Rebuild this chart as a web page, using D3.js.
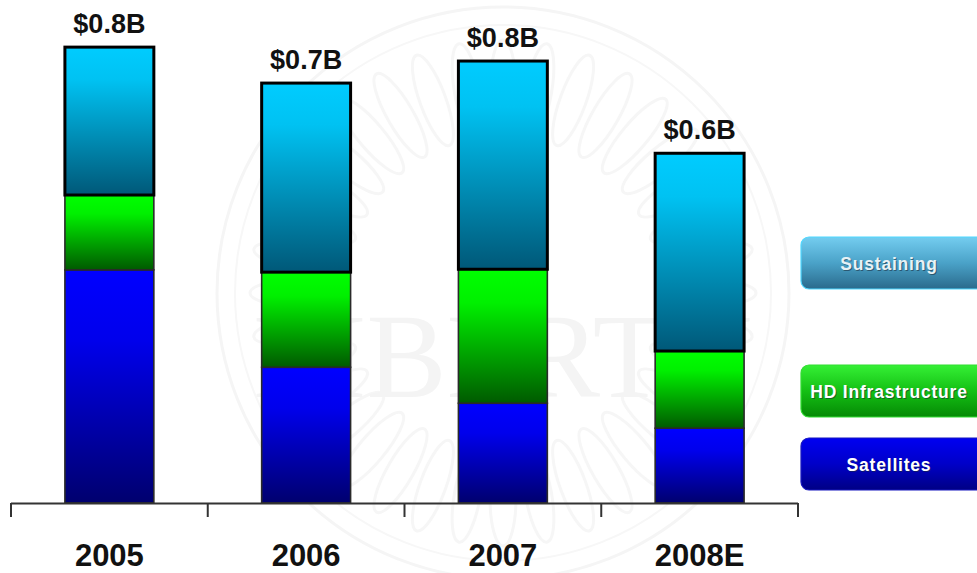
<!DOCTYPE html>
<html>
<head>
<meta charset="utf-8">
<script src="https://cdn.jsdelivr.net/npm/d3@7"></script>
<style>
  html, body { margin: 0; padding: 0; background: #ffffff; }
  svg { display: block; }
</style>
</head>
<body>
<svg id="chart" width="977" height="573"></svg>
<script>
// Capital spending by category, $M
const years        = ["2005", "2006", "2007", "2008E"];
const satellites   = [402, 234, 172, 129];
const hdInfra      = [129, 164, 231, 133];
const sustaining   = [255, 326, 359, 341];
const seriesNames  = ["Satellites", "HD Infrastructure", "Sustaining"];
const legendOrder  = ["Sustaining", "HD Infrastructure", "Satellites"];

const W = 977, H = 573;
const svg = d3.select("#chart");
const defs = svg.append("defs");

// vertical gradients for bar segments and legend chips
function vGrad(id, stops) {
  const g = defs.append("linearGradient").attr("id", id)
    .attr("x1", 0).attr("y1", 0).attr("x2", 0).attr("y2", 1);
  stops.forEach(([o, c]) => g.append("stop").attr("offset", o).attr("stop-color", c));
}
vGrad("g-sat",  [[0, "#0000ff"], [0.3, "#0000ec"], [1, "#00006e"]]);
vGrad("g-hd",   [[0, "#00ff00"], [0.25, "#00f000"], [1, "#005a00"]]);
vGrad("g-sus",  [[0, "#00ccff"], [0.22, "#00c2f2"], [1, "#005878"]]);
vGrad("l-sus",  [[0, "#74cdf0"], [0.5, "#4aa2c8"], [1, "#2a6a8c"]]);
vGrad("l-hd",   [[0, "#35f035"], [0.5, "#14c014"], [1, "#058a05"]]);
vGrad("l-sat",  [[0, "#0000f2"], [0.5, "#0000c8"], [1, "#000084"]]);

const fills = { "Satellites": "url(#g-sat)", "HD Infrastructure": "url(#g-hd)", "Sustaining": "url(#g-sus)" };
const chips = { "Satellites": "url(#l-sat)", "HD Infrastructure": "url(#l-hd)", "Sustaining": "url(#l-sus)" };

// faint seal in the background
const seal = svg.append("g").attr("transform", "translate(503,293)");
seal.append("circle").attr("r", 286).attr("fill", "none").attr("stroke", "#f5f5f5").attr("stroke-width", 3);
seal.append("circle").attr("r", 268).attr("fill", "none").attr("stroke", "#f7f7f7").attr("stroke-width", 2);
d3.range(36).forEach(i => {
  const a = i * 10;
  seal.append("ellipse")
    .attr("transform", `rotate(${a}) translate(0,-205)`)
    .attr("rx", 13).attr("ry", 48)
    .attr("fill", "none").attr("stroke", "#f6f6f6").attr("stroke-width", 3);
});
seal.append("text")
  .attr("x", 0).attr("y", 104)
  .attr("text-anchor", "middle")
  .attr("font-family", "'Liberation Serif', 'DejaVu Serif', serif")
  .attr("font-size", 120)
  .attr("fill", "#f4f4f4")
  .text("LIBERTY");

// scales
const x = d3.scaleBand().domain(years).range([11, 798]).padding(0);
const barW = x.bandwidth() * 0.452;
const y = d3.scaleLinear().domain([0, 800]).range([503, 39]);

const rows = years.map((yr, i) => ({
  year: yr,
  "Satellites": satellites[i],
  "HD Infrastructure": hdInfra[i],
  "Sustaining": sustaining[i]
}));
const stacked = d3.stack().keys(seriesNames)(rows);

// stacked bars
const layers = svg.append("g").selectAll("g").data(stacked).join("g");
layers.selectAll("rect")
  .data(s => s.map(d => ({ key: s.key, d })))
  .join("rect")
  .attr("x", v => x(v.d.data.year) + (x.bandwidth() - barW) / 2)
  .attr("y", v => y(v.d[1]))
  .attr("width", barW)
  .attr("height", v => y(v.d[0]) - y(v.d[1]))
  .attr("fill", v => fills[v.key])
  .attr("stroke", v => v.key === "Sustaining" ? "#000" : "#2a2a2a")
  .attr("stroke-width", v => v.key === "Sustaining" ? 3 : 1.6);

// total labels
const totals = rows.map(r => ({ year: r.year, total: seriesNames.reduce((s, k) => s + r[k], 0) }));
svg.append("g").selectAll("text").data(totals).join("text")
  .attr("x", d => x(d.year) + x.bandwidth() / 2)
  .attr("y", d => y(d.total) - 14)
  .attr("text-anchor", "middle")
  .attr("font-family", "'Liberation Sans', Arial, sans-serif")
  .attr("font-weight", "bold")
  .attr("font-size", 27)
  .attr("fill", "#111")
  .text(d => "$" + (d.total / 1000).toFixed(1) + "B");

// category axis: baseline with boundary ticks
const axis = svg.append("g");
const edges = years.map(yr => x(yr)).concat([x.range()[1]]);
axis.append("line")
  .attr("x1", x.range()[0]).attr("x2", x.range()[1])
  .attr("y1", y(0) + 0.5).attr("y2", y(0) + 0.5)
  .attr("stroke", "#333").attr("stroke-width", 2);
axis.selectAll("line.tick").data(edges).join("line")
  .attr("class", "tick")
  .attr("x1", d => d).attr("x2", d => d)
  .attr("y1", y(0)).attr("y2", y(0) + 14)
  .attr("stroke", "#333").attr("stroke-width", 2);
axis.selectAll("text").data(years).join("text")
  .attr("x", d => x(d) + x.bandwidth() / 2)
  .attr("y", 566)
  .attr("text-anchor", "middle")
  .attr("font-family", "'Liberation Sans', Arial, sans-serif")
  .attr("font-weight", "bold")
  .attr("font-size", 31)
  .attr("fill", "#111")
  .text(d => d);

// legend chips
const legendY = { "Sustaining": 237, "HD Infrastructure": 365, "Satellites": 438 };
const lg = svg.append("g").selectAll("g").data(legendOrder).join("g")
  .attr("transform", d => `translate(801,${legendY[d]})`);
lg.append("rect")
  .attr("width", 195).attr("height", 52).attr("rx", 8)
  .attr("fill", d => chips[d])
  .attr("stroke", d => d === "Sustaining" ? "#4fd8ff" : (d === "HD Infrastructure" ? "#33dd33" : "#1818c0"))
  .attr("stroke-width", 1.2);
lg.append("text")
  .attr("x", 88).attr("y", 33)
  .attr("text-anchor", "middle")
  .attr("font-family", "'Liberation Sans', Arial, sans-serif")
  .attr("font-weight", "bold")
  .attr("font-size", 17.5)
  .attr("letter-spacing", 0.8)
  .attr("fill", "#1a2a3a").attr("opacity", 0.55)
  .attr("transform", "translate(1,1)")
  .text(d => d);
lg.append("text")
  .attr("x", 88).attr("y", 33)
  .attr("text-anchor", "middle")
  .attr("font-family", "'Liberation Sans', Arial, sans-serif")
  .attr("font-weight", "bold")
  .attr("font-size", 17.5)
  .attr("letter-spacing", 0.8)
  .attr("fill", d => d === "Sustaining" ? "#e8f2f6" : "#ffffff")
  .text(d => d);
</script>
</body>
</html>
